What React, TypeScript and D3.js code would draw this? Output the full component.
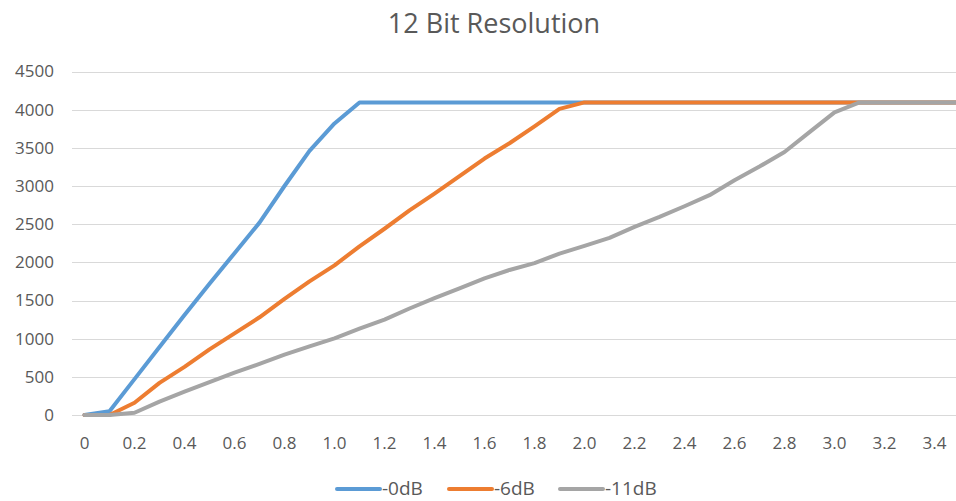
import React from 'react';
import * as d3 from 'd3';

const categories = [
  '0', '0.1', '0.2', '0.3', '0.4', '0.5', '0.6', '0.7', '0.8', '0.9',
  '1.0', '1.1', '1.2', '1.3', '1.4', '1.5', '1.6', '1.7', '1.8', '1.9',
  '2.0', '2.1', '2.2', '2.3', '2.4', '2.5', '2.6', '2.7', '2.8', '2.9',
  '3.0', '3.1', '3.2', '3.3', '3.4', '3.5',
];

// ADC readings per attenuation setting
const db0 = [
  0, 50, 470, 890, 1310, 1720, 2120, 2520, 3000, 3460,
  3820, 4095, 4095, 4095, 4095, 4095, 4095, 4095, 4095, 4095,
  4095, 4095, 4095, 4095, 4095, 4095, 4095, 4095, 4095, 4095,
  4095, 4095, 4095, 4095, 4095, 4095,
];
const db6 = [
  0, 0, 160, 420, 630, 860, 1070, 1280, 1520, 1750,
  1960, 2210, 2440, 2680, 2900, 3130, 3360, 3560, 3780, 4010,
  4095, 4095, 4095, 4095, 4095, 4095, 4095, 4095, 4095, 4095,
  4095, 4095, 4095, 4095, 4095, 4095,
];
const db11 = [
  0, 0, 30, 175, 305, 430, 555, 670, 790, 900,
  1005, 1130, 1250, 1395, 1530, 1660, 1790, 1900, 1990, 2115,
  2215, 2320, 2465, 2595, 2735, 2880, 3075, 3255, 3445, 3705,
  3965, 4095, 4095, 4095, 4095, 4095,
];

const yTicks = [0, 500, 1000, 1500, 2000, 2500, 3000, 3500, 4000, 4500];

const seriesNames = ['-0dB', '-6dB', '-11dB'];
const seriesColors = ['#5B9BD5', '#ED7D31', '#A5A5A5'];

const width = 956;
const height = 501;
const margin = { top: 71.5, left: 72, bottom: 86 };
const font = '"Open Sans", "Liberation Sans", sans-serif';

export default function App() {
  const x = d3.scaleBand<string>()
    .domain(categories)
    .range([margin.left, margin.left + categories.length * 25]);
  const y = d3.scaleLinear()
    .domain([0, 4500])
    .range([height - margin.bottom, margin.top]);

  const cx = (c: string) => (x(c) as number) + x.bandwidth() / 2;

  const line = d3.line<number>()
    .x((d, i) => cx(categories[i]))
    .y(d => y(d));

  const series = [db0, db6, db11];
  const legendX = [335, 447, 558];

  return (
    <svg width={width} height={height}
      style={{ position: 'absolute', left: 0, top: 0, background: '#fff' }}>
      <text x={494} y={33} textAnchor="middle" fontFamily={font} fontSize={27} fill="#595959">
        12 Bit Resolution
      </text>

      {yTicks.map(t => (
        <g key={t}>
          <line x1={margin.left} x2={margin.left + categories.length * 25}
            y1={Math.round(y(t)) + 0.5} y2={Math.round(y(t)) + 0.5}
            stroke="#D9D9D9" strokeWidth={1} />
          <text x={54} y={y(t)} dy="0.35em" textAnchor="end"
            fontFamily={font} fontSize={17} fill="#595959">{t}</text>
        </g>
      ))}

      {categories.map((c, i) => i % 2 === 0 ? (
        <text key={c} x={cx(c)} y={449} textAnchor="middle"
          fontFamily={font} fontSize={17} fill="#595959">{c}</text>
      ) : null)}

      {series.map((s, k) => (
        <path key={k} d={line(s) || ''} fill="none" stroke={seriesColors[k]}
          strokeWidth={4} strokeLinejoin="round" strokeLinecap="round" />
      ))}

      {seriesNames.map((n, k) => (
        <g key={n}>
          <line x1={legendX[k] + 2} x2={legendX[k] + 45} y1={489} y2={489}
            stroke={seriesColors[k]} strokeWidth={4} strokeLinecap="round" />
          <text x={legendX[k] + 47} y={495}
            fontFamily={font} fontSize={19} fill="#595959">{n}</text>
        </g>
      ))}
    </svg>
  );
}
